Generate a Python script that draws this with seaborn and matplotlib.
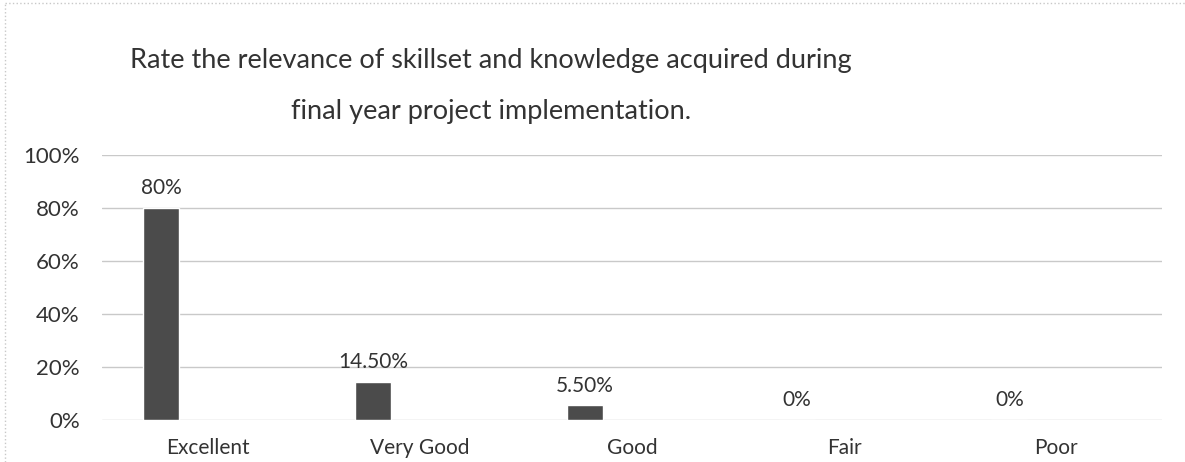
import numpy as np
import pandas as pd
import matplotlib
matplotlib.use('Agg')
import matplotlib.pyplot as plt
import seaborn as sns
from matplotlib.ticker import PercentFormatter

categories = ['Excellent', 'Very Good', 'Good', 'Fair', 'Poor']
values = [80, 14.5, 5.5, 0, 0]
value_labels = ['80%', '14.50%', '5.50%', '0%', '0%']
title_lines = ['Rate the relevance of skillset and knowledge acquired during',
               'final year project implementation.']

df = pd.DataFrame({'Rating': categories, 'Percent': values})

sns.set_theme(style='white')
plt.rcParams['font.family'] = ['Lato', 'DejaVu Sans']

fig = plt.figure(figsize=(11.85, 4.62), dpi=100)
ax = fig.add_axes([0.086, 0.091, 0.895, 0.574])

sns.barplot(data=df, x='Rating', y='Percent', color='#4b4b4b', width=0.17,
            saturation=1, ax=ax, zorder=3)

# bars sit left of the category centre, like the excel original
for p in ax.patches:
    p.set_x(p.get_x() - 0.222)

ax.bar_label(ax.containers[0], labels=value_labels, padding=7,
             fontsize=15, color='#333333')

ax.set_ylim(0, 100)
ax.set_yticks(np.arange(0, 101, 20))
ax.yaxis.set_major_formatter(PercentFormatter(decimals=0))
ax.set_xlim(-0.5, len(categories) - 0.5)
ax.grid(axis='y', color='#c9c9c9', lw=1, zorder=0)
ax.grid(axis='x', visible=False)
sns.despine(ax=ax, left=True, bottom=True)
ax.tick_params(axis='y', labelsize=16, pad=16, labelcolor='#333333', length=0)
ax.tick_params(axis='x', labelsize=15, pad=13, labelcolor='#333333', length=0)
ax.set_xlabel('')
ax.set_ylabel('')

# title, two centred lines
fig.text(0.414, 0.852, title_lines[0], ha='center', va='baseline', fontsize=19.5,
         color='#333333')
fig.text(0.414, 0.742, title_lines[1], ha='center', va='baseline', fontsize=19.5,
         color='#333333')

# chart area border
fig.add_artist(plt.Line2D([0.004, 1.0], [0.993, 0.993], color='#c8c8c8', lw=1,
                          ls=':', transform=fig.transFigure))
fig.add_artist(plt.Line2D([0.004, 0.004], [0.0, 0.993], color='#c8c8c8', lw=1,
                          ls=':', transform=fig.transFigure))

fig.savefig('out.png', dpi=100, facecolor='white')
